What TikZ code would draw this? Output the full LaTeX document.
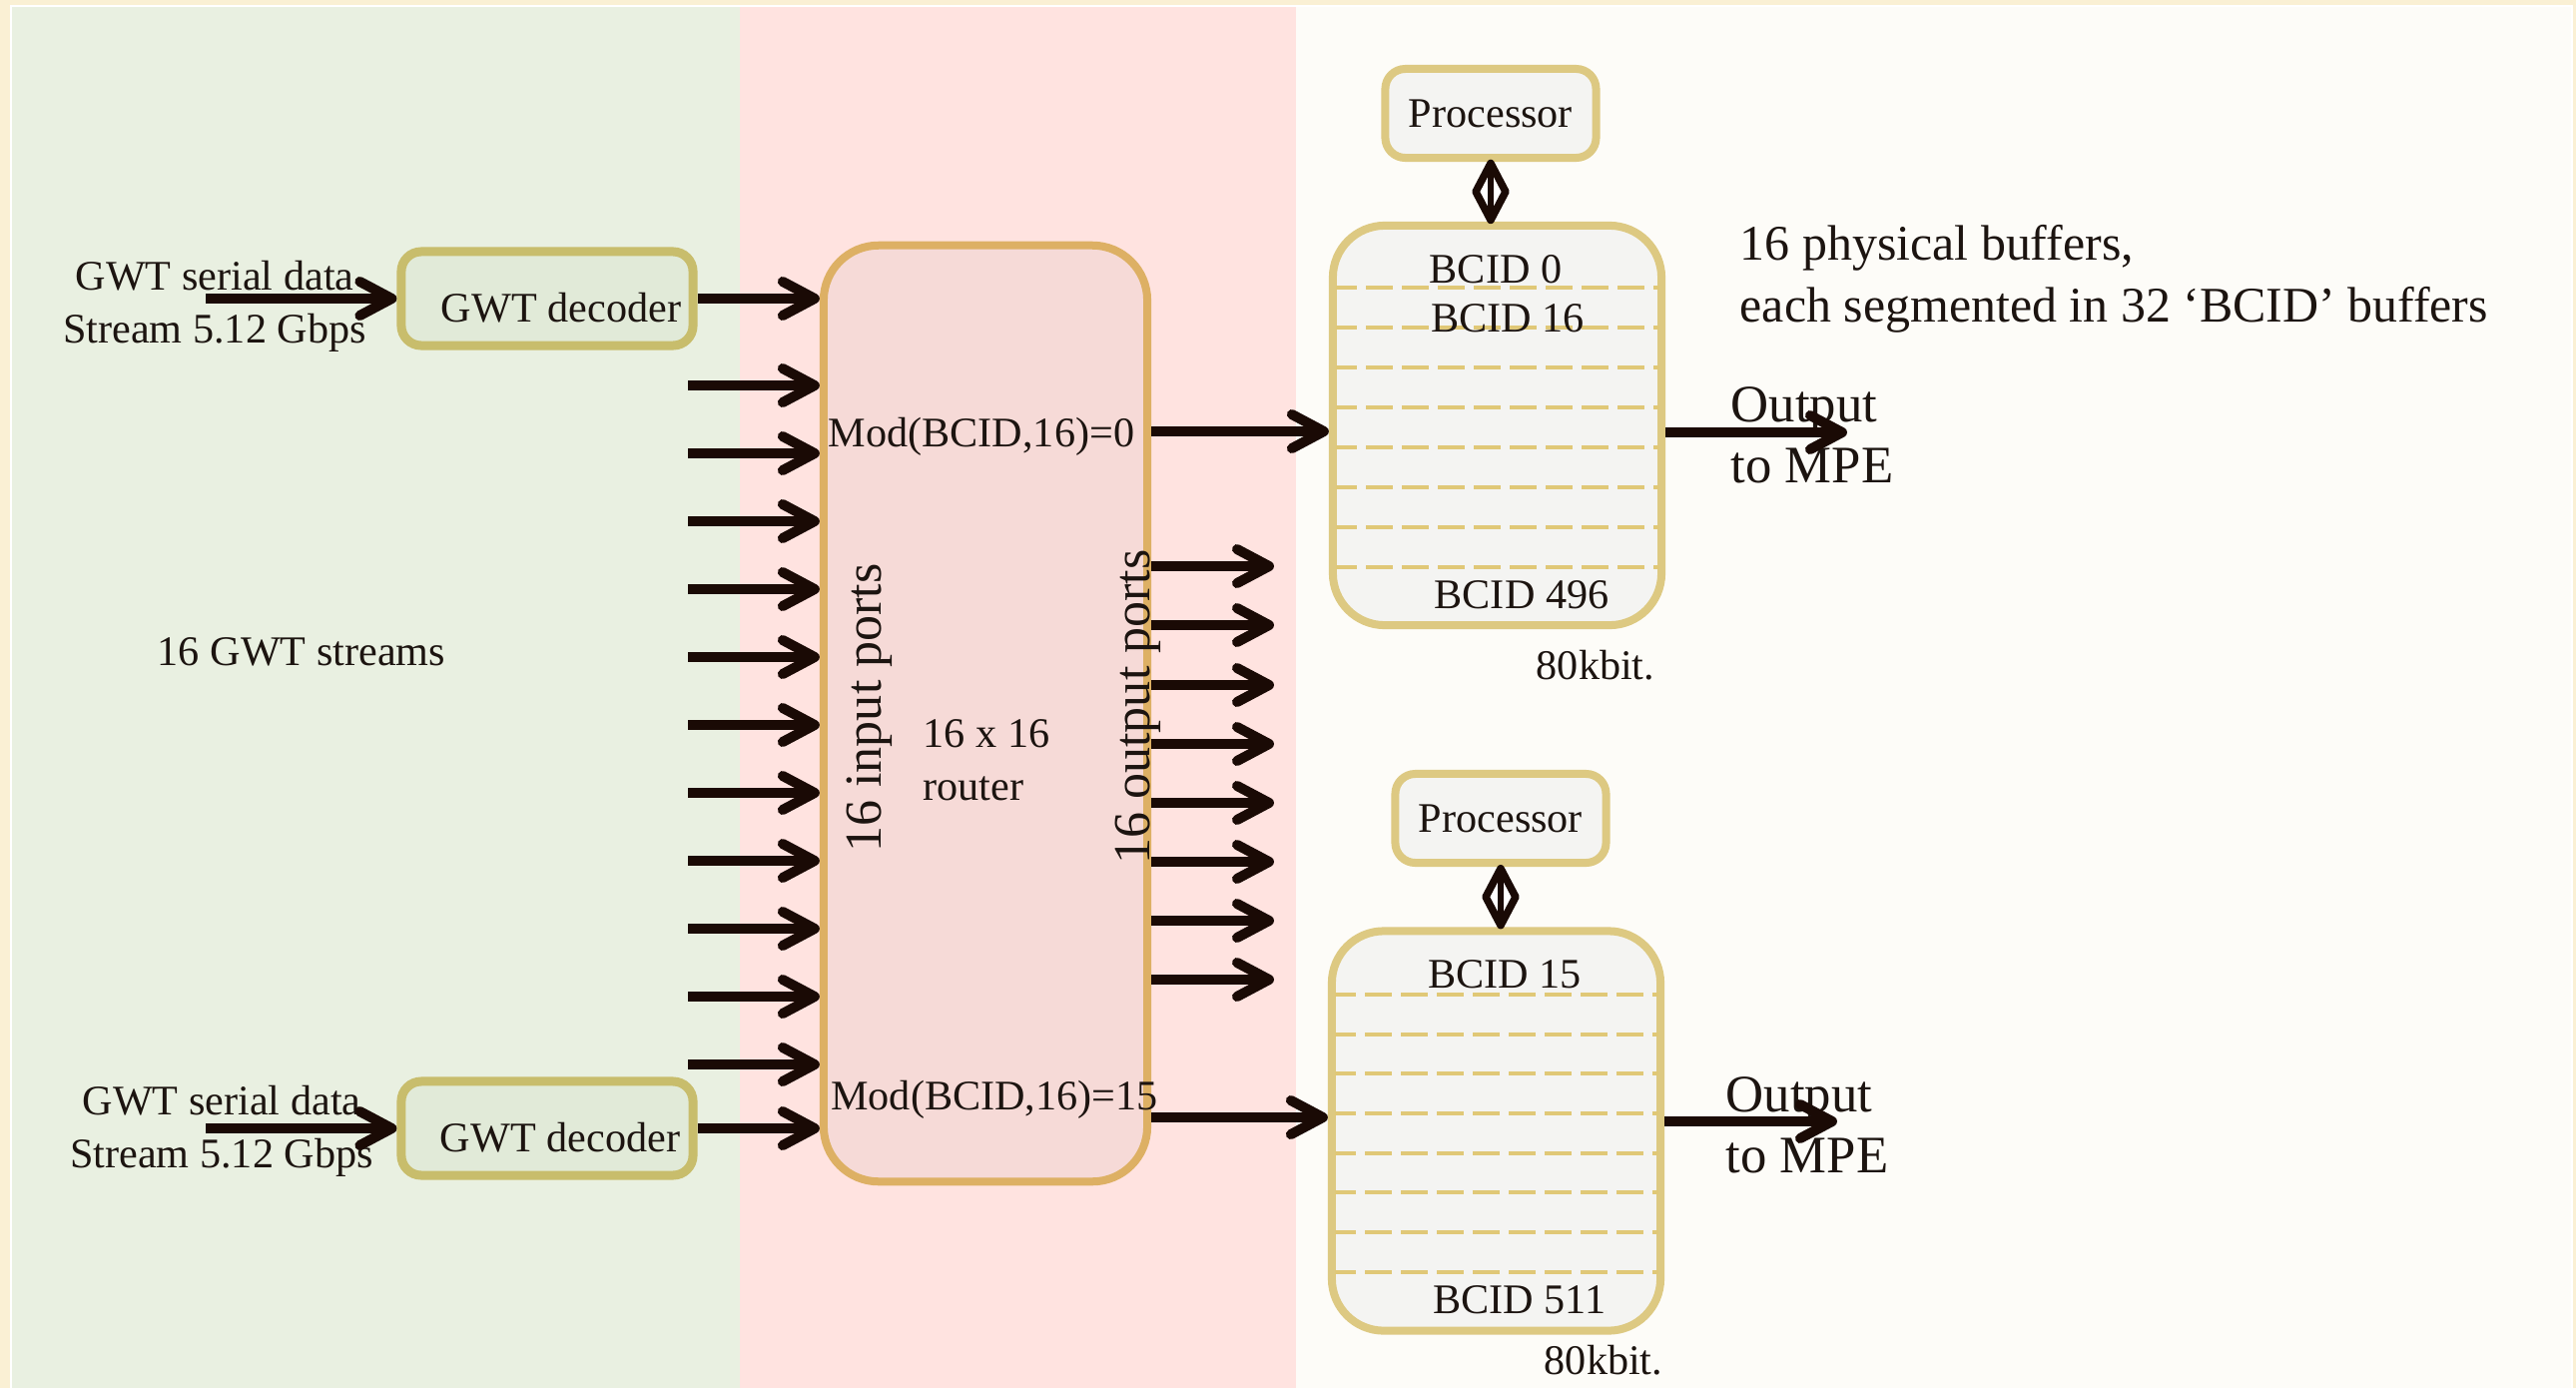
\documentclass[tikz,border=0pt]{standalone}
\usepackage{fontspec}
\setmainfont{Liberation Serif}
\usetikzlibrary{arrows.meta,shapes.geometric,calc}

\definecolor{framebg}{HTML}{FAF0D4}
\definecolor{greenbg}{HTML}{E9F0E1}
\definecolor{pinkbg}{HTML}{FFE3E0}
\definecolor{whitebg}{HTML}{FDFCF8}
\definecolor{decfill}{HTML}{E1EAD8}
\definecolor{decline}{HTML}{C8BD6C}
\definecolor{routfill}{HTML}{F6DAD7}
\definecolor{routline}{HTML}{DDB064}
\definecolor{buffill}{HTML}{F4F4F2}
\definecolor{bufline}{HTML}{DDC982}
\definecolor{segcol}{HTML}{E0C877}
\definecolor{ink}{HTML}{1A0A05}
\definecolor{txt}{HTML}{1C1410}

\begin{document}
\begin{tikzpicture}[x=0.01cm, y=-0.01cm,
  every node/.style={text=txt, inner sep=0pt, font=\fontsize{12}{15}\selectfont},
  decbox/.style={draw=decline, fill=decfill, line width=0.09cm, rounded corners=0.2cm,
    minimum width=2.92cm, minimum height=0.94cm},
  routbox/.style={draw=routline, fill=routfill, line width=0.08cm, rounded corners=0.55cm,
    minimum width=3.24cm, minimum height=9.37cm},
  bufbox/.style={draw=bufline, fill=buffill, line width=0.08cm, rounded corners=0.52cm,
    minimum width=3.29cm, minimum height=4.0cm},
  procbox/.style={draw=bufline, fill=buffill, line width=0.08cm, rounded corners=0.2cm,
    minimum width=2.11cm, minimum height=0.89cm},
  arr/.style={draw=ink, line width=0.1cm, -{Straight Barb[length=0.32cm, width=0.34cm, round]}},
  segline/.style={draw=segcol, line width=0.033cm, dash pattern=on 0.27cm off 0.09cm, dash phase=0.06cm},
  link/.style={draw=ink, line width=0.06cm},
  linkdiamond/.style={diamond, draw=ink, fill=white, line width=0.075cm, line join=round,
    minimum width=0.33cm, minimum height=0.6cm},
  note/.style={font=\fontsize{14.2}{17.6}\selectfont, align=left, anchor=west},
  outnote/.style={font=\fontsize{15}{17.4}\selectfont, align=left, anchor=west},
  ports/.style={font=\fontsize{14.8}{17}\selectfont, rotate=90},
]
\useasboundingbox (0,0) rectangle (2580,1390);

% backgrounds: frame and the three zones
\fill[framebg] (0,0) rectangle (2580,1390);
\fill[white] (10,5) rectangle (2577,1390);
\fill[greenbg] (12,7) rectangle (741,1390);
\fill[pinkbg] (741,7) rectangle (1298,1390);
\fill[whitebg] (1298,7) rectangle (2575,1390);

% decoders
\node[decbox] (dec1) at (548,299) {};
\node[decbox] (dec2) at (548,1130) {};
\node (dec1t) at (562,308) {GWT decoder};
\node (dec2t) at (561,1139) {GWT decoder};

% serial inputs
\node[align=center] (ser1t) at (215,307) {GWT serial data\\Stream 5.12 Gbps};
\node[align=center] (ser2t) at (222,1133) {GWT serial data\\Stream 5.12 Gbps};
\coordinate (ser1) at (206,299);
\coordinate (ser2) at (206,1130);
\draw[arr] (ser1) -- (dec1.west);
\draw[arr] (ser2) -- (dec2.west);

\node (streams) at (302,653) {16 GWT streams};

% router
\node[routbox] (rt) at (987,714.5) {};
\node[ports] (inports) at (871,709) {16 input ports};
\node[ports] (outports) at (1140,708) {16 output ports};
\node[align=left, anchor=west, font=\fontsize{12}{15.1}\selectfont] (rtt) at (924,761) {16 x 16\\router};
\node (mod0) at (983,437) {Mod(BCID,16)=0};
\node (mod15) at (996,1101) {Mod(BCID,16)=15};

% router inputs
\draw[arr] (dec1.east) -- (dec1.east -| rt.west);
\draw[arr] (dec2.east) -- (dec2.east -| rt.west);
\foreach \y [count=\i] in {386,454,522,590,658,726,794,862,930,998,1066} {
  \coordinate (src\i) at (689,\y);
  \draw[arr] (src\i) -- (src\i -| rt.west);
}

% router outputs
\foreach \y [count=\i] in {567,626,686,745,804,863,922,981} {
  \coordinate (out\i) at (1276,\y);
  \draw[arr] (out\i -| rt.east) -- (out\i);
}

% buffers
\node[bufbox] (buf1) at (1499.5,426) {};
\node[bufbox] (buf2) at (1498.5,1132.5) {};
\foreach \y in {288,328,368,408,448,488,528,568} \draw[segline] (1338,\y) -- (1662,\y);
\foreach \y in {996,1036,1075,1115,1155,1194,1234,1274} \draw[segline] (1337,\y) -- (1661,\y);

\node (b0) at (1498,270) {BCID 0};
\node (b16) at (1510,319) {BCID 16};
\node (b496) at (1524,596) {BCID 496};
\node (kb1) at (1598,666) {80kbit.};
\node (b15) at (1507,976) {BCID 15};
\node (b511) at (1522,1302) {BCID 511};
\node (kb2) at (1606,1362) {80kbit.};

\draw[arr] (rt.east |- 0,432) -- (buf1.west |- 0,432);
\draw[arr] (rt.east |- 0,1119) -- (buf2.west |- 0,1119);

% processors
\node[procbox] (proc1) at (1493,113.5) {Processor};
\node[procbox] (proc2) at (1503,819.5) {Processor};
\node[linkdiamond] (dm1) at ($(proc1.south)!0.5!(proc1.south |- buf1.north)$) {};
\node[linkdiamond] (dm2) at ($(proc2.south)!0.5!(proc2.south |- buf2.north)$) {};
\draw[link] (proc1.south) -- (proc1.south |- buf1.north);
\draw[link] (proc2.south) -- (proc2.south |- buf2.north);

% outputs to MPE
\coordinate (mpe1) at (1850,433);
\coordinate (mpe2) at (1840,1123);
\node[outnote] (mpe1t) at (1733,436) {Output\\to MPE};
\node[outnote] (mpe2t) at (1728,1127) {Output\\to MPE};
\draw[arr] (buf1.east |- mpe1) -- (mpe1);
\draw[arr] (buf2.east |- mpe2) -- (mpe2);

\node[note] (bufnote) at (1742,279) {16 physical buffers,\\each segmented in 32 ‘BCID’ buffers};
\end{tikzpicture}
\end{document}
